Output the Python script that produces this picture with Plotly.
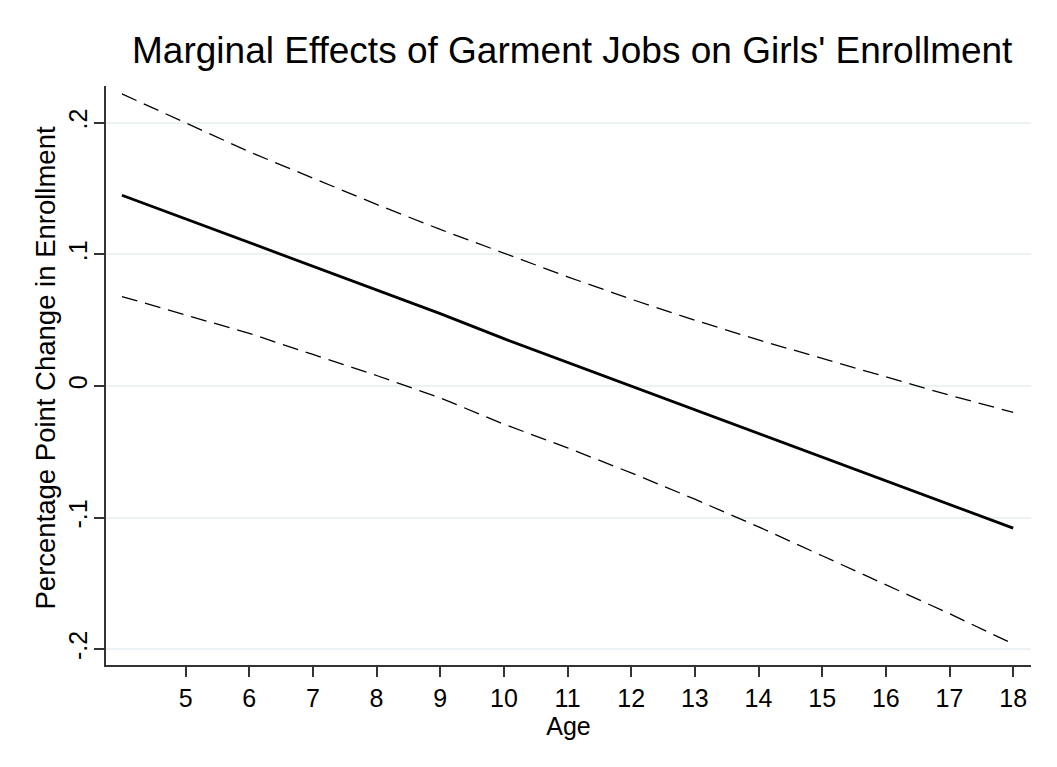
import plotly.graph_objects as go

age = [4, 5, 6, 7, 8, 9, 10, 11, 12, 13, 14, 15, 16, 17, 18]
effect = [0.145, 0.127, 0.109, 0.091, 0.073, 0.055, 0.036, 0.018, 0.000,
          -0.018, -0.036, -0.054, -0.072, -0.090, -0.108]
upper = [0.222, 0.200, 0.178, 0.158, 0.138, 0.119, 0.101, 0.083, 0.066,
         0.050, 0.035, 0.021, 0.007, -0.007, -0.020]
lower = [0.068, 0.054, 0.040, 0.024, 0.008, -0.009, -0.029, -0.047, -0.066,
         -0.086, -0.107, -0.129, -0.151, -0.173, -0.196]
x_ticks = [5, 6, 7, 8, 9, 10, 11, 12, 13, 14, 15, 16, 17, 18]
y_ticks = [-0.2, -0.1, 0, 0.1, 0.2]
y_ticklabels = ["-.2", "-.1", "0", ".1", ".2"]

FONT = "Liberation Sans, Arial, sans-serif"

fig = go.Figure()
fig.add_trace(go.Scatter(x=age, y=upper, mode="lines",
                         line=dict(color="black", width=1.3, dash="16px,8px"),
                         showlegend=False))
fig.add_trace(go.Scatter(x=age, y=lower, mode="lines",
                         line=dict(color="black", width=1.3, dash="16px,8px"),
                         showlegend=False))
fig.add_trace(go.Scatter(x=age, y=effect, mode="lines",
                         line=dict(color="black", width=2.8),
                         showlegend=False))

fig.update_layout(
    width=1041, height=751,
    paper_bgcolor="white", plot_bgcolor="white",
    margin=dict(l=98, r=18, t=78, b=94),
    font=dict(family=FONT, color="black"),
    title=dict(text="Marginal Effects of Garment Jobs on Girls' Enrollment",
               x=0.542, xanchor="center", y=1 - 42 / 751, yanchor="middle",
               font=dict(size=37, family=FONT, color="black")),
    xaxis=dict(range=[3.75, 18.28], tickvals=x_ticks,
               ticks="outside", ticklen=10, tickwidth=1.5, tickcolor="#333",
               showline=True, linecolor="#333", linewidth=1.5,
               showgrid=False, zeroline=False,
               tickfont=dict(size=25, family=FONT),
               ticklabelstandoff=0,
               title=dict(text="Age", font=dict(size=25, family=FONT), standoff=0)),
    yaxis=dict(range=[-0.212, 0.228], tickvals=y_ticks, ticktext=y_ticklabels,
               tickangle=-90,
               ticks="outside", ticklen=10, tickwidth=1.5, tickcolor="#333",
               showline=True, linecolor="#333", linewidth=1.5,
               showgrid=True, gridcolor="#eaf2f3", gridwidth=2,
               zeroline=False,
               tickfont=dict(size=25, family=FONT),
               ticklabelstandoff=-3),
    annotations=[dict(text="Percentage Point Change in Enrollment",
                      xref="paper", yref="paper", x=0, y=0.5,
                      xanchor="center", yanchor="middle",
                      xshift=-61, yshift=7, textangle=-90, showarrow=False,
                      font=dict(size=27.5, family=FONT, color="black"))],
)

fig.write_html("out.html")
